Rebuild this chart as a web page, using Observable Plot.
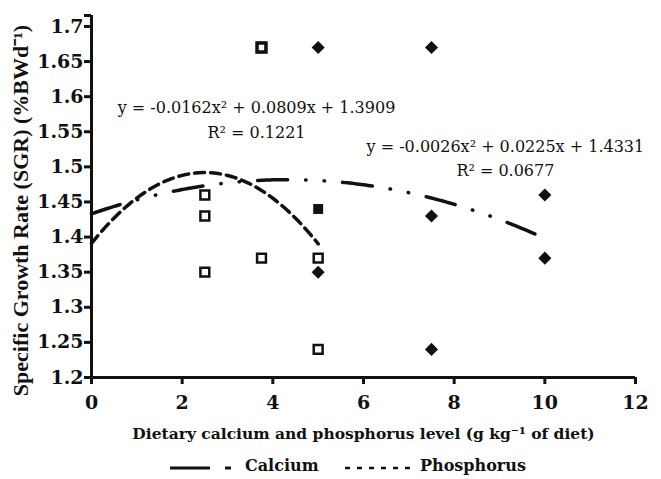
<!DOCTYPE html>
<html><head><meta charset="utf-8">
<script src="https://cdn.jsdelivr.net/npm/d3@7"></script>
<script src="https://cdn.jsdelivr.net/npm/@observablehq/plot@0.6"></script>
<style>
body{margin:0;background:#fff;}
#chart{width:661px;}
#legend{position:relative;width:661px;height:29px;font:bold 16px "DejaVu Serif";color:#111;}
#legend > *{position:absolute;}
</style></head><body>
<div id="chart"></div>
<div id="legend"></div>
<script>
// ---- data ----
const phosphorusX = [2.5, 2.5, 2.5, 3.75, 3.75, 5, 5];
const phosphorusY = [1.46, 1.43, 1.35, 1.67, 1.37, 1.37, 1.24];
const calciumX = [5, 5, 7.5, 7.5, 7.5, 10, 10];
const calciumY = [1.67, 1.35, 1.67, 1.43, 1.24, 1.46, 1.37];
const overlapX = [5];
const overlapY = [1.44];
// fitted quadratic trend lines, as printed on the chart: [a, b, c] for a x^2 + b x + c
const calciumFit = [-0.0026, 0.0225, 1.4331];
const calciumRange = [0, 10];
const phosphorusFit = [-0.0162, 0.0809, 1.3909];
const phosphorusRange = [0, 5];
const xTicks = [0, 2, 4, 6, 8, 10, 12];
const yTicks = [1.2, 1.25, 1.3, 1.35, 1.4, 1.45, 1.5, 1.55, 1.6, 1.65, 1.7];
const annLabels = ["y = -0.0162x² + 0.0809x + 1.3909", "R² = 0.1221", "y = -0.0026x² + 0.0225x + 1.4331", "R² = 0.0677"];
const annX = [3.64, 3.64, 9.13, 9.13];
const annY = [1.5835, 1.549, 1.528, 1.494];
const xLabel = "Dietary calcium and phosphorus level (g kg⁻¹ of diet)";
const yLabel = "Specific Growth Rate (SGR) (%BWd⁻¹)";
const seriesNames = ["Calcium", "Phosphorus"];

const pts = (xs, ys) => xs.map((x, i) => ({x, y: ys[i]}));
const fitLine = (c, [a, b]) => d3.range(a, b + 1e-9, 0.05).map(x => ({x, y: c[0] * x * x + c[1] * x + c[2]}));
const ann = annLabels.map((t, i) => ({t, x: annX[i], y: annY[i]}));
const yTop = 1.7156;
const ink = "#111";

const plot = Plot.plot({
  width: 661, height: 450,
  marginLeft: 91, marginRight: 26, marginTop: 15, marginBottom: 73,
  style: {fontFamily: "DejaVu Serif", background: "white", color: ink},
  x: {domain: [0, 12]},
  y: {domain: [1.2, yTop]},
  marks: [
    Plot.axisX({ticks: xTicks, tickSize: 7, tickPadding: 11, strokeWidth: 3, stroke: ink, fontSize: 19, fontWeight: "bold", label: null}),
    Plot.axisY({ticks: [...yTicks, yTop], tickFormat: d => d > 1.7001 ? "" : String(+d.toFixed(2)), tickSize: 7, tickPadding: 1, strokeWidth: 3, stroke: ink, fontSize: 19, fontWeight: "bold", label: null}),
    Plot.ruleX([0], {y1: 1.2, y2: yTop, strokeWidth: 3, stroke: ink}),
    Plot.ruleY([1.2], {strokeWidth: 3, stroke: ink}),
    Plot.line(fitLine(phosphorusFit, phosphorusRange), {x: "x", y: "y", stroke: ink, strokeWidth: 3.5, strokeDasharray: "10,6"}),
    Plot.line(fitLine(calciumFit, calciumRange), {x: "x", y: "y", stroke: ink, strokeWidth: 3.5, strokeLinecap: "round", strokeDasharray: "30,18,0.5,18,0.5,18"}),
    Plot.dot(pts(phosphorusX, phosphorusY), {x: "x", y: "y", symbol: "square", r: 5, stroke: ink, strokeWidth: 2.5, fill: "white"}),
    Plot.dot(pts(phosphorusX, phosphorusY).filter(d => d.y > 1.6), {x: "x", y: "y", symbol: "square", r: 5, stroke: ink, strokeWidth: 3.5, fill: "white"}),
    Plot.dot(pts(calciumX, calciumY), {x: "x", y: "y", symbol: "diamond2", r: 5.9, fill: ink}),
    Plot.dot(pts(overlapX, overlapY), {x: "x", y: "y", symbol: "square", r: 5.6, fill: ink}),
    Plot.text(ann, {x: "x", y: "y", text: "t", fontSize: 16, fill: ink, lineAnchor: "middle"}),
    Plot.text([xLabel], {frameAnchor: "bottom", dy: 57, fontSize: 15.5, fontWeight: "bold", fill: ink, lineAnchor: "middle", textAnchor: "middle"}),
    Plot.text([yLabel], {frameAnchor: "left", dx: -71, dy: 14, rotate: -90, textAnchor: "middle", fontFamily: "Liberation Serif", fontSize: 22, fontWeight: "bold", fill: ink, lineAnchor: "middle"})
  ]
});
document.getElementById("chart").append(plot);

// legend below the chart
const leg = d3.select("#legend");
const s1 = leg.append("svg").attr("width", 62).attr("height", 10).style("left", "170px").style("top", "13px");
s1.append("line").attr("x1", 0).attr("x2", 40).attr("y1", 5).attr("y2", 5).attr("stroke", ink).attr("stroke-width", 3);
s1.append("line").attr("x1", 55).attr("x2", 61).attr("y1", 5).attr("y2", 5).attr("stroke", ink).attr("stroke-width", 3);
leg.append("span").text(seriesNames[0]).style("left", "245px").style("top", "6px");
const s2 = leg.append("svg").attr("width", 68).attr("height", 10).style("left", "345px").style("top", "13px");
s2.append("line").attr("x1", 0).attr("x2", 66).attr("y1", 5).attr("y2", 5).attr("stroke", ink).attr("stroke-width", 2.5).attr("stroke-dasharray", "5,7");
leg.append("span").text(seriesNames[1]).style("left", "420px").style("top", "6px");
</script>
</body></html>
